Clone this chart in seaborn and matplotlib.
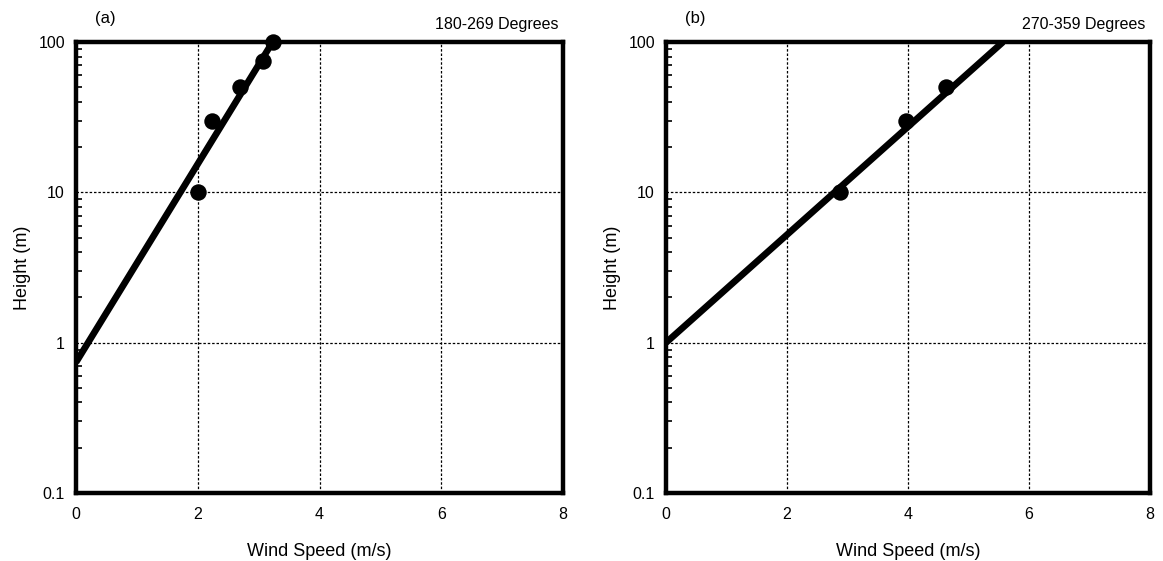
import matplotlib
matplotlib.use("Agg")
import matplotlib.pyplot as plt
import seaborn as sns
import numpy as np
import pandas as pd
from matplotlib.ticker import LogLocator, FixedLocator, NullFormatter

# ---- data ----
speed_a = [2.0, 2.23, 2.69, 3.07, 3.23]
height_a = [10, 30, 50, 75, 100]
fit_speed_a = [0.0, 3.23]
fit_height_a = [0.74, 100]

speed_b = [2.88, 3.97, 4.62]
height_b = [10, 30, 50]
fit_speed_b = [0.0, 5.57]
fit_height_b = [1.0, 100]

x_ticks = [0, 2, 4, 6, 8]
y_ticks = [0.1, 1, 10, 100]
y_tick_labels = ["0.1", "1", "10", "100"]
panel_labels = ["(a)", "(b)"]
panel_titles = ["180-269 Degrees", "270-359 Degrees"]
x_label = "Wind Speed (m/s)"
y_label = "Height (m)"

sns.set_theme(style="white")
plt.rcParams['font.family'] = ['Liberation Sans', 'DejaVu Sans']

W, H = 1163, 561
fig = plt.figure(figsize=(W / 100, H / 100), dpi=100)
ax_a = fig.add_axes([76 / W, (H - 493) / H, 487 / W, 451 / H])
ax_b = fig.add_axes([666 / W, (H - 493) / H, 484 / W, 451 / H])

panels = [
    (ax_a, speed_a, height_a, fit_speed_a, fit_height_a),
    (ax_b, speed_b, height_b, fit_speed_b, fit_height_b),
]

for i, (ax, sx, sy, fx, fy) in enumerate(panels):
    ax.set_yscale("log")
    ax.set_xlim(0, 8)
    ax.set_ylim(0.1, 100)
    # grid
    for gx in x_ticks[1:-1]:
        ax.axvline(gx, color="black", lw=0.9, ls=(0, (2, 1.5)), zorder=1)
    for gy in y_ticks[1:-1]:
        ax.axhline(gy, color="black", lw=0.9, ls=(0, (2, 1.5)), zorder=1)
    fit_df = pd.DataFrame({"speed": fx, "height": fy})
    sns.lineplot(data=fit_df, x="speed", y="height", ax=ax, color="black",
                 linewidth=4.8, solid_capstyle="butt", zorder=3)
    pts_df = pd.DataFrame({"speed": sx, "height": sy})
    sns.scatterplot(data=pts_df, x="speed", y="height", ax=ax, color="black",
                    s=140, edgecolor="black", linewidth=0, zorder=4, clip_on=False)
    ax.xaxis.set_major_locator(FixedLocator(x_ticks))
    ax.yaxis.set_major_locator(FixedLocator(y_ticks))
    ax.set_yticklabels(y_tick_labels)
    ax.yaxis.set_minor_locator(LogLocator(base=10, subs=np.arange(2, 10), numticks=20))
    ax.yaxis.set_minor_formatter(NullFormatter())
    ax.tick_params(axis="y", which="minor", direction="in", length=4, width=1.2,
                   color="black", left=True, right=False)
    ax.tick_params(axis="y", which="major", direction="in", length=0, labelsize=11.5,
                   pad=8, colors="black")
    ax.tick_params(axis="x", which="major", length=0, labelsize=11.5, pad=10,
                   colors="black")
    for sp in ax.spines.values():
        sp.set_visible(True)
        sp.set_color("black")
        sp.set_linewidth(3.2)
        sp.set_zorder(5)
    ax.set_xlabel(x_label, fontsize=13, labelpad=15, color="black")
    ax.set_ylabel(y_label, fontsize=13, labelpad=5, color="black")
    ax.text(0.06, 1.035, panel_labels[i], transform=ax.transAxes, ha="center",
            va="bottom", fontsize=12, color="black")
    ax.text(0.99, 1.022, panel_titles[i], transform=ax.transAxes, ha="right",
            va="bottom", fontsize=11.5, color="black")
    ax.set_facecolor("white")

fig.savefig("out.png", dpi=100, facecolor="white")
